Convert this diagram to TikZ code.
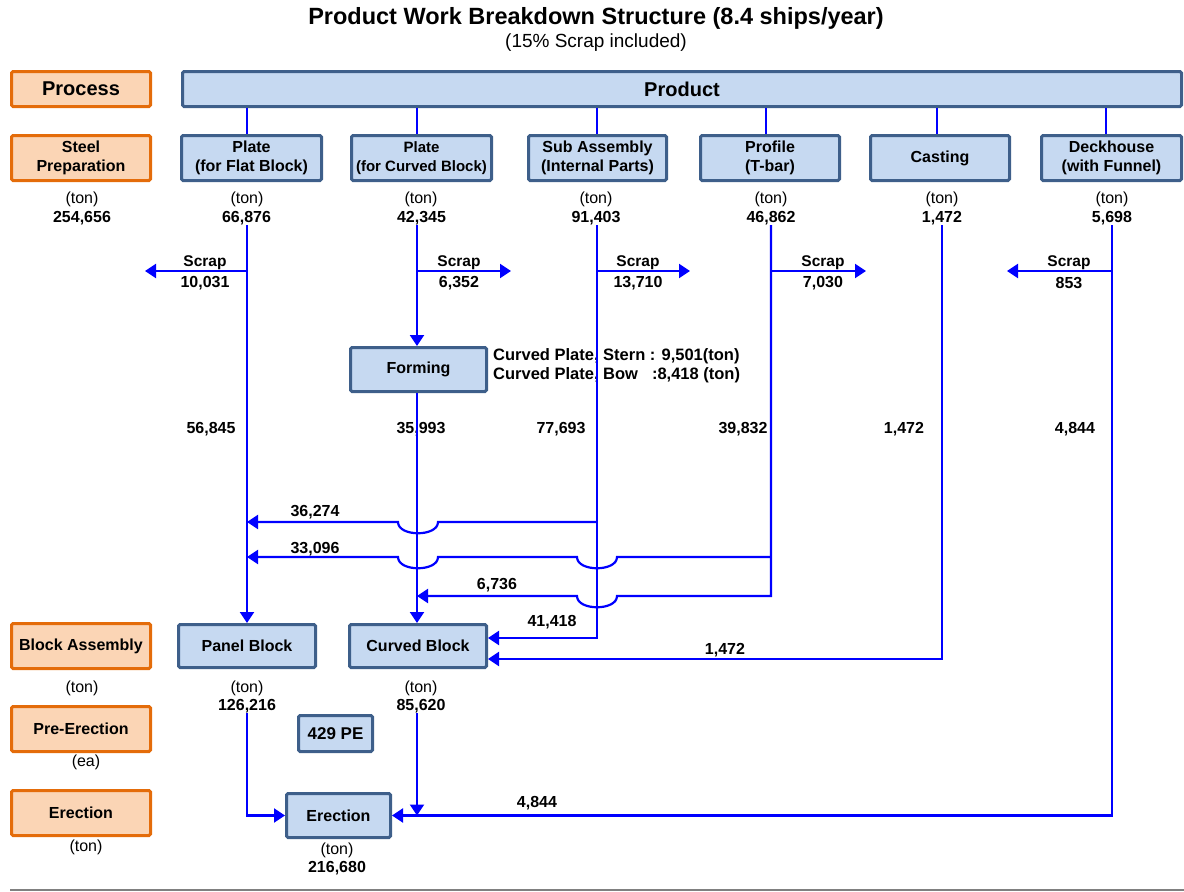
\documentclass[tikz,border=0pt]{standalone}
\usepackage{fontspec}
\setmainfont{Liberation Sans}
\usetikzlibrary{arrows.meta,calc}
\definecolor{bfill}{HTML}{C6D9F1}
\definecolor{bdraw}{HTML}{3E5F8A}
\definecolor{ofill}{HTML}{FBD5B5}
\definecolor{odraw}{HTML}{E46C0A}
\definecolor{lblue}{RGB}{0,0,255}
\definecolor{rulegray}{RGB}{128,128,128}
\begin{document}
\begin{tikzpicture}[x=1pt,y=-1pt,
  bbox/.style={draw=bdraw, fill=bfill, line width=3pt, rounded corners=1.5pt, align=center,
    font=\bfseries\fontsize{16}{18.5}\selectfont, inner sep=0pt},
  obox/.style={draw=odraw, fill=ofill, line width=3pt, rounded corners=1.5pt, align=center,
    font=\bfseries\fontsize{16}{18.5}\selectfont, inner sep=0pt, minimum width=139pt},
  conn/.style={draw=lblue, line width=2.2pt},
  arr/.style={conn, -{Triangle[length=11pt,width=14pt]}},
  unit/.style={font=\fontsize{16}{18}\selectfont, inner sep=0pt},
  num/.style={font=\bfseries\fontsize{16}{18}\selectfont, inner sep=0pt},
  lbl/.style={font=\bfseries\fontsize{15.5}{18}\selectfont, inner sep=0pt},
]
\useasboundingbox (0,0) rectangle (1184,892);

% title
\node[font=\bfseries\fontsize{23.5}{26}\selectfont, inner sep=0pt] (title) at (596,18) {Product Work Breakdown Structure (8.4 ships/year)};
\node[font=\fontsize{19}{21}\selectfont, inner sep=0pt] (subtitle) at (596,43) {(15\% Scrap included)};

% column x positions for lower lines
\coordinate (cA) at (247,0);
\coordinate (cB) at (417,0);
\coordinate (cC) at (597,0);
\coordinate (cD) at (771,0);
\coordinate (cE) at (942,0);
\coordinate (cF) at (1112,0);
% upper line x positions
\coordinate (uA) at (247,0);
\coordinate (uB) at (417,0);
\coordinate (uC) at (597,0);
\coordinate (uD) at (766,0);
\coordinate (uE) at (937,0);
\coordinate (uF) at (1106,0);
% row y positions
\coordinate (yS) at (0,271);
\coordinate (y1) at (0,522);
\coordinate (y2) at (0,557);
\coordinate (y3) at (0,596);

% left column (process)
\node[obox, minimum height=35pt, font=\bfseries\fontsize{20}{22}\selectfont] (process) at (81,89) {Process};
\node[obox, minimum height=45pt] (steel) at (81,158) {Steel\\Preparation};
\node[obox, minimum height=45pt] (blockasm) at (81,646) {Block Assembly};
\node[obox, minimum height=45pt] (preer) at (81,729) {Pre-Erection};
\node[obox, minimum height=45pt] (erectp) at (81,813) {Erection};

\node[unit] (steelu) at (82,199) {(ton)};
\node[num] (steeln) at (82,218) {254,656};
\node[unit] (blocku) at (82,688) {(ton)};
\node[unit] (preu) at (86,762) {(ea)};
\node[unit] (erectu) at (86,847) {(ton)};

% product
\node[bbox, minimum width=999pt, minimum height=35pt, font=\bfseries\fontsize{20}{22}\selectfont] (product) at (682,89) {Product};

% row 2
\node[bbox, minimum width=140pt, minimum height=45pt] (pflat) at (251.5,158) {Plate\\(for Flat Block)};
\node[bbox, minimum width=140pt, minimum height=45pt, font=\bfseries\fontsize{15}{18.5}\selectfont] (pcurv) at (421.5,158) {Plate\\(for Curved Block)};
\node[bbox, minimum width=138pt, minimum height=45pt] (subasm) at (597.5,158) {Sub Assembly\\(Internal Parts)};
\node[bbox, minimum width=139pt, minimum height=45pt] (profile) at (770,158) {Profile\\(T-bar)};
\node[bbox, minimum width=139pt, minimum height=45pt] (casting) at (940,158) {Casting};
\node[bbox, minimum width=140pt, minimum height=45pt] (deck) at (1111.5,158) {Deckhouse\\(with Funnel)};

\foreach \u/\b in {uA/pflat,uB/pcurv,uC/subasm,uD/profile,uE/casting,uF/deck}
  \draw[conn] (product.south -| \u) -- (\b.north -| \u);

% quantities
\node[unit] (u1) at (247,199) {(ton)};   \node[num] (n1) at (246.5,218) {66,876};
\node[unit] (u2) at (421,199) {(ton)};   \node[num] (n2) at (421.5,218) {42,345};
\node[unit] (u3) at (596,199) {(ton)};   \node[num] (n3) at (596,218) {91,403};
\node[unit] (u4) at (771,199) {(ton)};   \node[num] (n4) at (771,218) {46,862};
\node[unit] (u5) at (942,199) {(ton)};   \node[num] (n5) at (942,218) {1,472};
\node[unit] (u6) at (1112,199) {(ton)};  \node[num] (n6) at (1112,218) {5,698};

% scrap
\coordinate (sA) at (145,271);
\coordinate (sB) at (511,271);
\coordinate (sC) at (690,271);
\coordinate (sD) at (866,271);
\coordinate (sF) at (1007,271);
\draw[arr] (cA |- yS) -- (sA);
\draw[arr] (cB |- yS) -- (sB);
\draw[arr] (cC |- yS) -- (sC);
\draw[arr] (cD |- yS) -- (sD);
\draw[arr] (cF |- yS) -- (sF);
\node[lbl] (scA) at (205,263) {Scrap}; \node[num] (scAn) at (205,283) {10,031};
\node[lbl] (scB) at (459,263) {Scrap}; \node[num] (scBn) at (459,283) {6,352};
\node[lbl] (scC) at (638,263) {Scrap}; \node[num] (scCn) at (638,283) {13,710};
\node[lbl] (scD) at (823,263) {Scrap}; \node[num] (scDn) at (823,283) {7,030};
\node[lbl] (scF) at (1069,263) {Scrap}; \node[num] (scFn) at (1069,283) {853};

% forming
\node[bbox, minimum width=136pt, minimum height=44pt] (forming) at (418.5,369.5) {Forming};
\node[lbl, anchor=west, align=left, font=\bfseries\fontsize{16.5}{19}\selectfont] (cpnote) at (493,366)
  {Curved Plate, Stern : 9,501(ton)\\Curved Plate, Bow\hspace{14pt}:8,418 (ton)};

% middle numbers
\node[num] (m1) at (211,429) {56,845};
\node[num] (m2) at (421,429) {35,993};
\node[num] (m3) at (561,429) {77,693};
\node[num] (m4) at (743,429) {39,832};
\node[num] (m5) at (904,429) {1,472};
\node[num] (m6) at (1075,429) {4,844};

% block assembly
\node[bbox, minimum width=137pt, minimum height=43pt] (panel) at (247,646) {Panel Block};
\node[bbox, minimum width=137pt, minimum height=43pt] (cblock) at (418,646) {Curved Block};
\node[unit] (pu) at (247,688) {(ton)}; \node[num] (pn) at (247,706) {126,216};
\node[unit] (cu) at (421,688) {(ton)}; \node[num] (cn) at (421,706) {85,620};

\node[bbox, minimum width=74pt, minimum height=36pt, font=\bfseries\fontsize{17}{19}\selectfont] (pe) at (335.5,733.5) {429 PE};
\node[bbox, minimum width=104pt, minimum height=44pt] (erect) at (338.5,815.5) {Erection};
\node[unit] (eu) at (337,850) {(ton)}; \node[num] (en) at (337,868) {216,680};

% vertical flows
\draw[arr] (n1.south -| cA) -- (panel.north -| cA);
\draw[arr] (n2.south -| cB) -- (forming.north -| cB);
\draw[arr] (forming.south -| cB) -- (cblock.north -| cB);
\draw[arr] (n3.south -| cC) |- ([yshift=8pt]cblock.east);
\draw[arr] (n5.south -| cE) |- ([yshift=-13pt]cblock.east);

% 36,274 : sub assembly -> flat, hop over cB
\draw[arr] (cC |- y1) -- ($(cB |- y1)+(21,0)$)
  .. controls ($(cB |- y1)+(21,15)$) and ($(cB |- y1)+(-19,15)$) .. ($(cB |- y1)+(-19,0)$)
  -- (cA |- y1);
% 33,096 : profile -> flat, hops over cC and cB
\draw[arr] (cD |- y2) -- ($(cC |- y2)+(20,0)$)
  .. controls ($(cC |- y2)+(20,15)$) and ($(cC |- y2)+(-20,15)$) .. ($(cC |- y2)+(-20,0)$)
  -- ($(cB |- y2)+(21,0)$)
  .. controls ($(cB |- y2)+(21,15)$) and ($(cB |- y2)+(-19,15)$) .. ($(cB |- y2)+(-19,0)$)
  -- (cA |- y2);
% profile vertical and 6,736 -> curved line
\draw[arr] (n4.south -| cD) -- (cD |- y3) -- ($(cC |- y3)+(20,0)$)
  .. controls ($(cC |- y3)+(20,15)$) and ($(cC |- y3)+(-20,15)$) .. ($(cC |- y3)+(-20,0)$)
  -- (cB |- y3);

\node[num] (l1) at (315,512) {36,274};
\node[num] (l2) at (315,549) {33,096};
\node[num] (l3) at (497,585) {6,736};
\node[num] (l4) at (552,622) {41,418};
\node[num] (l5) at (725,650) {1,472};

% erection flows
\draw[arr] (pn.south -| cA) |- (erect.west);
\draw[arr] (n6.south -| cF) |- (erect.east);
\draw[arr] (cn.south -| cB) -- (cB |- erect.east);
\node[num] (l6) at (537,803) {4,844};

% bottom rule
\coordinate (r1) at (10,890);
\coordinate (r2) at (1184,890);
\draw[rulegray, line width=1.3pt] (r1) -- (r2);
\end{tikzpicture}
\end{document}
